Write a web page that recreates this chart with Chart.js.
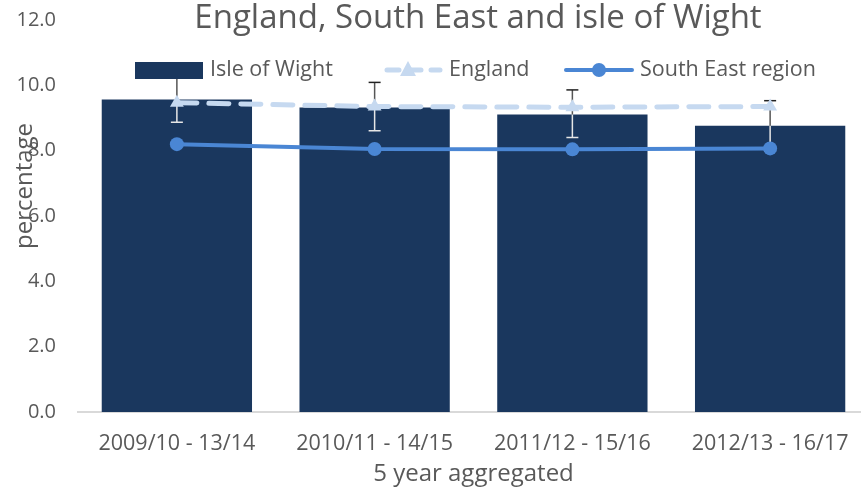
<!DOCTYPE html>
<html>
<head>
<meta charset="utf-8">
<script src="https://cdn.jsdelivr.net/npm/chart.js@4.4.0/dist/chart.umd.min.js"></script>
<style>
  html, body { margin: 0; padding: 0; background: #fff; overflow: hidden; }
  /* plot area runs a few pixels past the right edge in the original */
  canvas { display: block; }
</style>
</head>
<body>
<canvas id="chart" width="869" height="489"></canvas>
<script>
// data
const categories = ['2009/10 - 13/14', '2010/11 - 14/15', '2011/12 - 15/16', '2012/13 - 16/17'];
const isleOfWight = [9.57, 9.32, 9.11, 8.76];
const isleOfWightLow = [8.87, 8.61, 8.40, 7.99];
const isleOfWightHigh = [10.27, 10.09, 9.86, 9.53];
const england = [9.47, 9.35, 9.33, 9.35];
const southEast = [8.20, 8.05, 8.04, 8.07];
const yTicks = [0, 2, 4, 6, 8, 10, 12];

const FONT = "'Open Sans', sans-serif";
const TEXT = '#595959';
const NAVY = '#1a375e';
const LIGHT = '#c6d9f0';
const MID = '#4a86d4';

// error bars on the Isle of Wight bars
const errorBars = {
    id: 'errorBars',
    afterDatasetDraw(chart, args) {
        if (args.index !== 0) return;
        const ctx = chart.ctx;
        const y = chart.scales.y;
        const meta = chart.getDatasetMeta(0);
        ctx.save();
        ctx.lineWidth = 1.5;
        meta.data.forEach(function(bar, i) {
            const x = bar.x;
            const top = y.getPixelForValue(isleOfWight[i]);
            const hi = y.getPixelForValue(isleOfWightHigh[i]);
            const lo = y.getPixelForValue(isleOfWightLow[i]);
            ctx.strokeStyle = '#e6e6e6';
            ctx.beginPath();
            ctx.moveTo(x, top); ctx.lineTo(x, lo);
            ctx.moveTo(x - 6, lo); ctx.lineTo(x + 6, lo);
            ctx.stroke();
            ctx.strokeStyle = '#555';
            ctx.beginPath();
            ctx.moveTo(x, top); ctx.lineTo(x, hi);
            ctx.stroke();
            ctx.strokeStyle = '#222';
            ctx.beginPath();
            ctx.moveTo(x - 6, hi); ctx.lineTo(x + 6, hi);
            ctx.stroke();
        });
        ctx.restore();
    }
};

// title, legend and y axis title drawn over the plot like the original
const overlay = {
    id: 'overlay',
    afterDraw(chart) {
        const ctx = chart.ctx;
        ctx.save();
        ctx.fillStyle = TEXT;
        ctx.textBaseline = 'middle';

        ctx.font = '33px ' + FONT;
        ctx.textAlign = 'center';
        ctx.fillText('England, South East and isle of Wight', 478, 19);

        ctx.save();
        ctx.translate(25, 186);
        ctx.rotate(-Math.PI / 2);
        ctx.font = '24px ' + FONT;
        ctx.fillText('percentage', 0, 0);
        ctx.restore();

        // legend
        const ds = chart.data.datasets;
        const ly = 70;
        ctx.font = '21.5px ' + FONT;
        ctx.textAlign = 'left';
        ctx.fillStyle = NAVY;
        ctx.fillRect(135, 62, 68, 17);
        ctx.fillStyle = TEXT;
        ctx.fillText(ds[0].label, 210, ly);

        ctx.strokeStyle = LIGHT;
        ctx.lineWidth = 5;
        ctx.lineCap = 'round';
        ctx.setLineDash([12, 10]);
        ctx.beginPath();
        ctx.moveTo(387, ly); ctx.lineTo(440, ly);
        ctx.stroke();
        ctx.setLineDash([]);
        ctx.fillStyle = LIGHT;
        ctx.beginPath();
        ctx.moveTo(408, ly - 9); ctx.lineTo(416, ly + 6); ctx.lineTo(400, ly + 6);
        ctx.closePath();
        ctx.fill();
        ctx.fillStyle = TEXT;
        ctx.fillText(ds[1].label, 449, ly);

        ctx.strokeStyle = MID;
        ctx.lineWidth = 4;
        ctx.beginPath();
        ctx.moveTo(566, ly); ctx.lineTo(632, ly);
        ctx.stroke();
        ctx.fillStyle = MID;
        ctx.beginPath();
        ctx.arc(599, ly, 7, 0, Math.PI * 2);
        ctx.fill();
        ctx.fillStyle = TEXT;
        ctx.fillText(ds[2].label, 640, ly);
        ctx.restore();
    }
};

const ctx = document.getElementById('chart').getContext('2d');
new Chart(ctx, {
    type: 'bar',
    data: {
        labels: categories,
        datasets: [{
            label: 'Isle of Wight',
            data: isleOfWight,
            backgroundColor: NAVY,
            categoryPercentage: 1,
            barPercentage: 0.76,
            order: 2
        }, {
            type: 'line',
            label: 'England',
            data: england,
            borderColor: LIGHT,
            backgroundColor: LIGHT,
            borderWidth: 5,
            borderDash: [20, 12],
            borderCapStyle: 'round',
            pointStyle: 'triangle',
            pointRadius: 8,
            pointBorderWidth: 0,
            tension: 0,
            order: 1
        }, {
            type: 'line',
            label: 'South East region',
            data: southEast,
            borderColor: MID,
            backgroundColor: MID,
            borderWidth: 4,
            pointStyle: 'circle',
            pointRadius: 7,
            pointBorderWidth: 0,
            tension: 0,
            order: 0
        }]
    },
    options: {
        responsive: false,
        animation: false,
        layout: { autoPadding: false, padding: { top: 20, left: 0, right: 0, bottom: 0 } },
        plugins: {
            legend: { display: false },
            tooltip: { enabled: false }
        },
        scales: {
            x: {
                grid: { display: false },
                border: { color: '#d9d9d9', width: 2 },
                ticks: { color: TEXT, font: { family: FONT, size: 21.5 }, padding: 11, maxRotation: 0 },
                title: { display: true, text: '5 year aggregated', color: TEXT, font: { family: FONT, size: 24 }, padding: { top: 0, bottom: 0 } },
                afterFit(scale) {
                    scale.height = 77;
                    scale.paddingLeft = 0;
                    scale.paddingRight = 0;
                }
            },
            y: {
                min: 0,
                max: 12,
                grid: { display: false, drawTicks: false },
                border: { display: false },
                afterBuildTicks(scale) { scale.ticks = yTicks.map(v => ({ value: v })); },
                ticks: {
                    color: TEXT,
                    font: { family: FONT, size: 20 },
                    padding: 22,
                    callback: v => v.toFixed(1)
                },
                afterFit(scale) {
                    scale.width = 78;
                    scale.paddingTop = 0;
                    scale.paddingBottom = 0;
                }
            }
        }
    },
    plugins: [errorBars, overlay]
});
</script>
</body>
</html>
